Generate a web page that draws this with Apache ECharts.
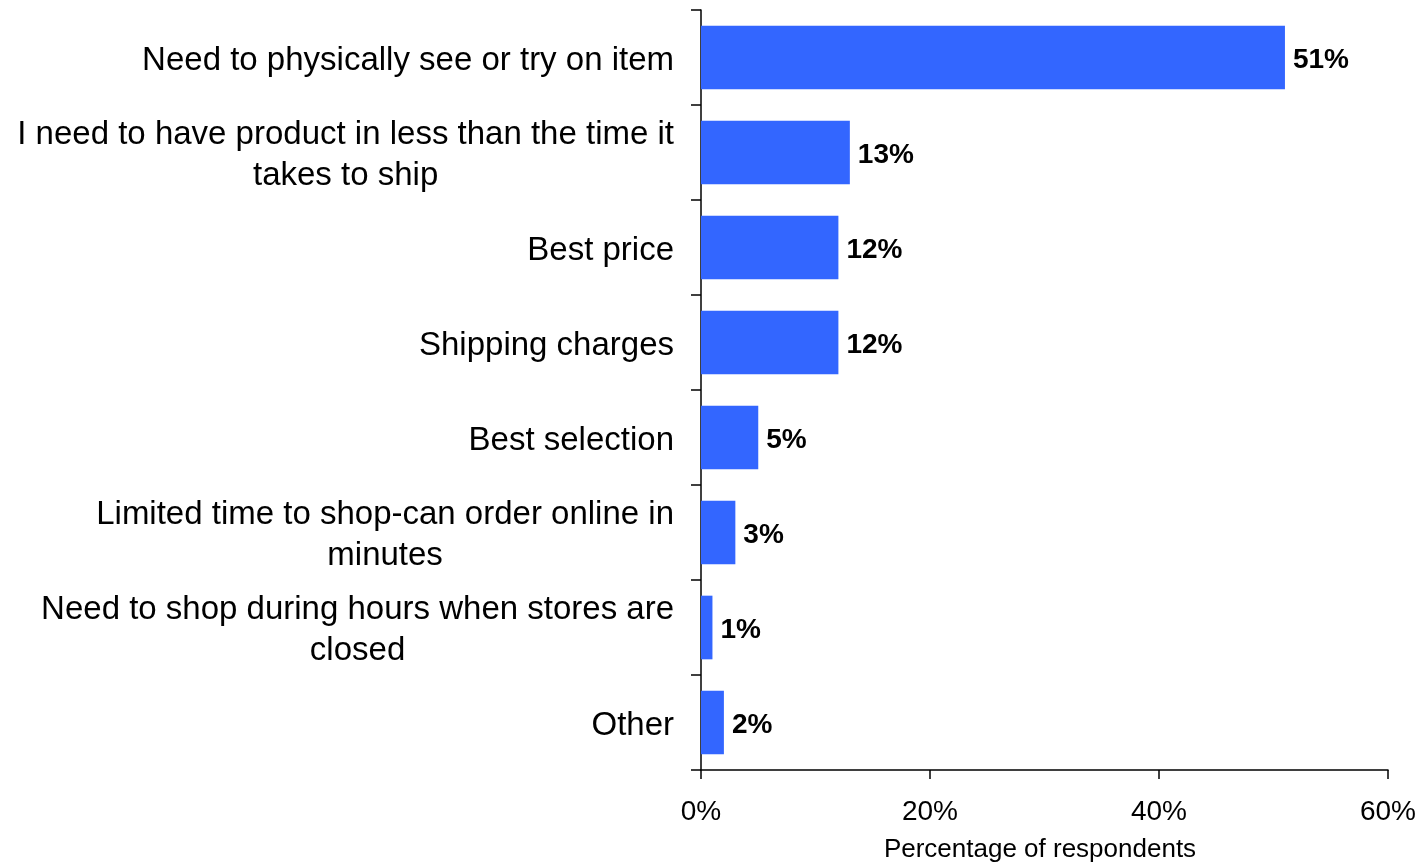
<!DOCTYPE html>
<html>
<head>
<meta charset="utf-8">
<title>Reasons for shopping in store</title>
<script src="https://cdn.jsdelivr.net/npm/echarts@6/dist/echarts.min.js"></script>
<style>
  html, body { margin: 0; padding: 0; background: #ffffff; }
  #chart { width: 1422px; height: 863px; }
</style>
</head>
<body>
<div id="chart"></div>
<script>
// Reasons respondents gave, top to bottom
const categories = [
  'Need to physically see or try on item',
  'I need to have product in less than the time it\ntakes to ship',
  'Best price',
  'Shipping charges',
  'Best selection',
  'Limited time to shop-can order online in\nminutes',
  'Need to shop during hours when stores are\nclosed',
  'Other'
];

// Share of respondents, in percent
const shares = [51, 13, 12, 12, 5, 3, 1, 2];

// Value axis ticks
const xTicks = [0, 20, 40, 60];

const FONT = '"Liberation Sans", Arial, Helvetica, sans-serif';

const chart = echarts.init(document.getElementById('chart'), null, { renderer: 'canvas' });

chart.setOption({
  animation: false,
  backgroundColor: '#ffffff',
  textStyle: { fontFamily: FONT, color: '#000000' },
  grid: {
    left: 701, right: 34, top: 10, bottom: 93,
    containLabel: false,
    outerBoundsMode: 'none'
  },
  xAxis: {
    type: 'value',
    min: xTicks[0],
    max: xTicks[xTicks.length - 1],
    interval: xTicks[1] - xTicks[0],
    name: 'Percentage of respondents',
    nameLocation: 'middle',
    nameGap: 67,
    nameTextStyle: {
      fontFamily: FONT,
      fontSize: 26,
      color: '#000000',
      padding: [0, 9, 0, 0]
    },
    axisLine: { show: true, lineStyle: { color: '#000000', width: 1.5 } },
    axisTick: { show: true, length: 9, lineStyle: { color: '#000000', width: 1.5 } },
    splitLine: { show: false },
    axisLabel: {
      formatter: '{value}%',
      margin: 28,
      fontFamily: FONT,
      fontSize: 28,
      color: '#000000'
    }
  },
  yAxis: {
    type: 'category',
    data: categories,
    inverse: true,
    axisLine: { show: true, lineStyle: { color: '#000000', width: 1.5 } },
    axisTick: { show: true, length: 10, lineStyle: { color: '#000000', width: 1.5 } },
    splitLine: { show: false },
    axisLabel: {
      margin: 27,
      align: 'right',
      padding: [6, 0, 0, 0],
      fontFamily: FONT,
      fontSize: 33,
      color: '#000000',
      interval: 0,
      // each line is centred within the right-aligned label block
      formatter: function (v) {
        return v.split('\n').map(function (line) { return '{c|' + line + '}'; }).join('\n');
      },
      rich: {
        c: {
          align: 'center',
          fontFamily: FONT,
          fontSize: 33,
          lineHeight: 41,
          color: '#000000'
        }
      }
    }
  },
  series: [{
    type: 'bar',
    data: shares,
    barCategoryGap: '33%',
    itemStyle: { color: '#3366FF' },
    label: {
      show: true,
      position: 'right',
      distance: 8,
      offset: [0, 3],
      formatter: '{c}%',
      fontFamily: FONT,
      fontSize: 28,
      fontWeight: 'bold',
      color: '#000000'
    }
  }]
});
</script>
</body>
</html>
